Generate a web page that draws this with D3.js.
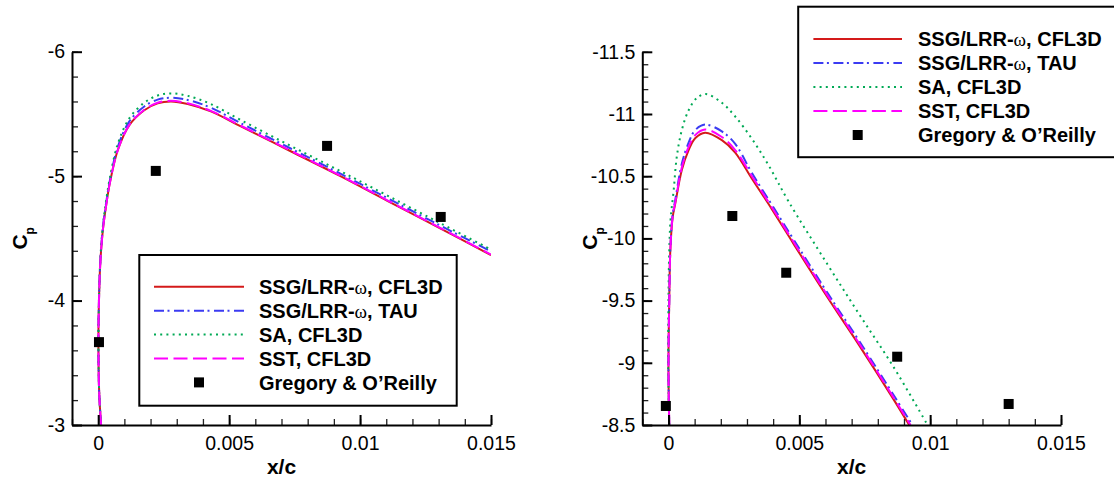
<!DOCTYPE html>
<html><head><meta charset="utf-8">
<script src="https://cdn.jsdelivr.net/npm/d3@7"></script>
<style>
body{margin:0;background:#fff}
svg{display:block}
text{font-family:"Liberation Sans",Arial,Helvetica,sans-serif}
</style>
</head><body>
<svg id="c" width="1114" height="480"></svg>
<script>
// ---------------- data ----------------
const seriesNames = ["SSG/LRR-ω, CFL3D", "SSG/LRR-ω, TAU", "SA, CFL3D", "SST, CFL3D", "Gregory & O’Reilly"];
const xDomain = [-0.001, 0.015];
const xTickValues = [0, 0.005, 0.01, 0.015];
const xTickLabels = ["0", "0.005", "0.01", "0.015"];
const leftYTickValues = [-6, -5, -4, -3];
const leftYTickLabels = ["-6", "-5", "-4", "-3"];
const rightYTickValues = [-11.5, -11, -10.5, -10, -9.5, -9, -8.5];
const rightYTickLabels = ["-11.5", "-11", "-10.5", "-10", "-9.5", "-9", "-8.5"];

// left panel curves (shared x/c stations)
const leftX = [0.00011, 0.00004, 0.00001, 0.00002, 0.00008, 0.00018, 0.00030, 0.00045, 0.00075, 0.00119, 0.00176, 0.00227, 0.00278, 0.00342, 0.0043, 0.00545, 0.00735, 0.00925, 0.01106, 0.01306, 0.015];
const leftSSGCFL3D = [-3.0, -3.25, -3.60, -3.90, -4.30, -4.57, -4.76, -4.95, -5.21, -5.41, -5.53, -5.585, -5.60, -5.58, -5.52, -5.40, -5.20, -5.00, -4.80, -4.58, -4.365];
const leftSSGTAU   = [-3.0, -3.25, -3.60, -3.90, -4.31, -4.59, -4.78, -4.97, -5.235, -5.44, -5.56, -5.615, -5.63, -5.612, -5.55, -5.425, -5.222, -5.02, -4.822, -4.603, -4.395];
const leftSA       = [-3.0, -3.25, -3.60, -3.91, -4.32, -4.60, -4.80, -4.99, -5.26, -5.465, -5.59, -5.648, -5.665, -5.645, -5.58, -5.45, -5.243, -5.04, -4.842, -4.622, -4.41];
const leftSST      = [-3.0, -3.25, -3.60, -3.90, -4.30, -4.57, -4.76, -4.95, -5.21, -5.412, -5.534, -5.59, -5.605, -5.585, -5.525, -5.405, -5.205, -5.004, -4.804, -4.584, -4.37];
const leftExpX  = [0.00003, 0.0022, 0.00874, 0.01308];
const leftExpCp = [-3.666, -5.042, -5.243, -4.672];

// right panel curves
const rightSSGCFL3DX = [0.00003, 0.0, 0.00003, 0.00007, 0.00016, 0.00026, 0.00051, 0.00077, 0.00102, 0.0014, 0.00204, 0.00255, 0.00319, 0.00395, 0.00477, 0.00605, 0.00732, 0.00859, 0.0092];
const rightSSGCFL3D  = [-8.5, -8.97, -9.5, -9.9, -10.17, -10.28, -10.55, -10.71, -10.805, -10.85, -10.79, -10.69, -10.48, -10.235, -9.96, -9.535, -9.13, -8.71, -8.5];
const rightSSGTAUX   = [0.00003, 0.0, 0.00003, 0.00007, 0.00016, 0.00026, 0.00051, 0.00077, 0.00102, 0.0014, 0.00204, 0.00255, 0.00319, 0.00395, 0.00477, 0.00605, 0.00732, 0.00859, 0.00932];
const rightSSGTAU    = [-8.5, -8.97, -9.5, -9.9, -10.19, -10.31, -10.6, -10.77, -10.87, -10.915, -10.86, -10.76, -10.525, -10.27, -9.995, -9.57, -9.165, -8.745, -8.5];
const rightSAX       = [0.00003, -0.00001, 0.0, 0.00003, 0.00008, 0.0002, 0.00032, 0.00051, 0.00077, 0.00109, 0.00143, 0.00204, 0.00255, 0.00319, 0.00382, 0.00458, 0.00605, 0.00732, 0.00859, 0.0099];
const rightSA        = [-8.5, -8.97, -9.5, -9.9, -10.15, -10.39, -10.66, -10.87, -11.03, -11.13, -11.16, -11.09, -10.98, -10.80, -10.59, -10.30, -9.80, -9.38, -8.97, -8.5];
const rightSSTX      = [0.00003, 0.0, 0.00003, 0.00007, 0.00016, 0.00026, 0.00051, 0.00077, 0.00102, 0.0014, 0.00204, 0.00255, 0.00319, 0.00395, 0.00477, 0.00605, 0.00732, 0.00859, 0.00925];
const rightSST       = [-8.5, -8.97, -9.5, -9.9, -10.18, -10.29, -10.57, -10.735, -10.83, -10.875, -10.815, -10.71, -10.5, -10.25, -9.975, -9.55, -9.145, -8.725, -8.5];
const rightExpX  = [-0.0001, 0.00244, 0.0045, 0.00874, 0.0130];
const rightExpCp = [-8.653, -10.18, -9.724, -9.049, -8.669];

// ---------------- styles ----------------
const lineStyles = [
  {color: "#d41a1a", dash: null},
  {color: "#3b3bf2", dash: "10,3.5,2,4.5"},
  {color: "#00a955", dash: "2,4.2"},
  {color: "#ff00ff", dash: "14,5.5"}
];

const svg = d3.select("#c");

function drawPanel(cfg) {
  const x = d3.scaleLinear().domain(xDomain).range([cfg.left, cfg.right]);
  const y = d3.scaleLinear().domain(cfg.yDomain).range([cfg.bottom, cfg.top]);

  const clipId = "clip-" + cfg.id;
  svg.append("clipPath").attr("id", clipId).append("rect")
    .attr("x", cfg.left).attr("y", cfg.top)
    .attr("width", cfg.right - cfg.left).attr("height", cfg.bottom - cfg.top);

  const line = d3.line().x(d => x(d[0])).y(d => y(d[1])).curve(d3.curveCatmullRom.alpha(0.5));

  const gCurves = svg.append("g").attr("clip-path", `url(#${clipId})`);
  cfg.series.forEach((s, i) => {
    const pts = s.x.map((v, k) => [v, s.y[k]]);
    gCurves.append("path").datum(pts)
      .attr("d", line)
      .attr("fill", "none")
      .attr("stroke", lineStyles[i].color)
      .attr("stroke-width", 2)
      .attr("stroke-dasharray", lineStyles[i].dash);
  });

  // minor ticks
  const minorX = svg.append("g").attr("transform", `translate(0,${cfg.bottom})`)
    .call(d3.axisBottom(x).ticks(16).tickSize(-6).tickSizeOuter(0).tickFormat(""));
  minorX.select(".domain").remove();
  minorX.selectAll("line").attr("stroke", "#222").attr("stroke-width", 1.3);
  const minorY = svg.append("g").attr("transform", `translate(${cfg.left},0)`)
    .call(d3.axisLeft(y).ticks(cfg.minorCount).tickSize(-6).tickSizeOuter(0).tickFormat(""));
  minorY.select(".domain").remove();
  minorY.selectAll("line").attr("stroke", "#222").attr("stroke-width", 1.3);

  // major axes
  const ax = svg.append("g").attr("transform", `translate(0,${cfg.bottom})`)
    .call(d3.axisBottom(x).tickValues(xTickValues).tickFormat((d, i) => xTickLabels[i])
      .tickSize(-10).tickSizeOuter(0).tickPadding(11));
  const ay = svg.append("g").attr("transform", `translate(${cfg.left},0)`)
    .call(d3.axisLeft(y).tickValues(cfg.yTicks).tickFormat((d, i) => cfg.yLabels[i])
      .tickSize(-10).tickSizeOuter(0).tickPadding(7));
  [ax, ay].forEach(a => {
    a.attr("font-family", null).attr("font-size", null);
    a.select(".domain").attr("stroke", "#000").attr("stroke-width", 2);
    a.selectAll(".tick line").attr("stroke", "#000").attr("stroke-width", 2);
    a.selectAll(".tick text").attr("fill", "#000").style("font-size", "19.5px")
      .style("font-family", '"Liberation Sans", Arial, sans-serif');
  });

  // experimental markers
  svg.append("g").selectAll("rect").data(cfg.exp.x.map((v, k) => [v, cfg.exp.y[k]]))
    .join("rect")
    .attr("x", d => x(d[0]) - 5).attr("y", d => y(d[1]) - 5)
    .attr("width", 10).attr("height", 10).attr("fill", "#000");

  // axis titles
  svg.append("text").attr("x", (cfg.left + cfg.right) / 2).attr("y", 474)
    .attr("text-anchor", "middle").style("font-weight", "bold").style("font-size", "21px")
    .text("x/c");
  const cp = svg.append("text")
    .attr("transform", `translate(${cfg.left - 45},${(cfg.top + cfg.bottom) / 2}) rotate(-90)`)
    .attr("text-anchor", "middle").style("font-weight", "bold").style("font-size", "21px");
  cp.append("tspan").text("C");
  cp.append("tspan").attr("dy", 7).style("font-size", "12px").text("p");

  // legend
  const L = cfg.legend;
  svg.append("rect").attr("x", L.x).attr("y", L.y).attr("width", L.w).attr("height", L.h)
    .attr("fill", "#fff").attr("stroke", "#000").attr("stroke-width", 2);
  seriesNames.forEach((name, i) => {
    const ry = L.row0 + i * L.dy;
    if (i < 4) {
      svg.append("line").attr("x1", L.lx0).attr("x2", L.lx1).attr("y1", ry).attr("y2", ry)
        .attr("stroke", lineStyles[i].color).attr("stroke-width", 2)
        .attr("stroke-dasharray", lineStyles[i].dash);
    } else {
      svg.append("rect").attr("x", (L.lx0 + L.lx1) / 2 - 5).attr("y", ry - 5)
        .attr("width", 10).attr("height", 10).attr("fill", "#000");
    }
    const t = svg.append("text").attr("x", L.tx).attr("y", ry + 7.1)
      .style("font-weight", "bold").style("font-size", "20px").attr("fill", "#000");
    const parts = name.split("ω");
    parts.forEach((p, k) => {
      if (k > 0) t.append("tspan").style("font-family", '"Liberation Serif", "DejaVu Serif", serif')
        .style("font-weight", "normal").style("font-size", "19px").text("ω");
      t.append("tspan").text(p);
    });
  });
}

drawPanel({
  id: "left", left: 72, right: 491, top: 51.7, bottom: 425,
  yDomain: [-3, -6], yTicks: leftYTickValues, yLabels: leftYTickLabels, minorCount: 15,
  series: [
    {x: leftX, y: leftSSGCFL3D},
    {x: leftX, y: leftSSGTAU},
    {x: leftX, y: leftSA},
    {x: leftX, y: leftSST}
  ],
  exp: {x: leftExpX, y: leftExpCp},
  legend: {x: 139.3, y: 255, w: 317.4, h: 150.7, lx0: 154, lx1: 244, tx: 259, row0: 286.8, dy: 23.9}
});

drawPanel({
  id: "right", left: 642.3, right: 1061, top: 51.8, bottom: 425,
  yDomain: [-8.5, -11.5], yTicks: rightYTickValues, yLabels: rightYTickLabels, minorCount: 30,
  series: [
    {x: rightSSGCFL3DX, y: rightSSGCFL3D},
    {x: rightSSGTAUX, y: rightSSGTAU},
    {x: rightSAX, y: rightSA},
    {x: rightSSTX, y: rightSST}
  ],
  exp: {x: rightExpX, y: rightExpCp},
  legend: {x: 798.2, y: 6.7, w: 322, h: 150.5, lx0: 813.4, lx1: 902, tx: 918, row0: 39, dy: 24}
});
</script>
</body></html>
